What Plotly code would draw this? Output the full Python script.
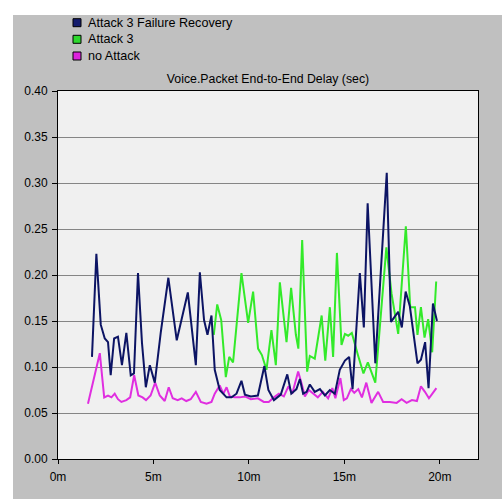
import plotly.graph_objects as go

# ---- data (time in minutes, delay in seconds) ----
recovery_t = [1.78, 2.01, 2.24, 2.45, 2.62, 2.76, 2.94, 3.14, 3.35, 3.58, 3.81, 3.98, 4.19, 4.40,
              4.60, 4.81, 5.07, 5.38, 5.78, 6.22, 6.80, 7.22, 7.43, 7.65, 7.83, 8.04, 8.21, 8.47,
              8.83, 9.09, 9.35, 9.61, 9.79, 10.10, 10.47, 10.81, 11.02, 11.31, 11.67, 12.01, 12.22,
              12.49, 12.67, 12.84, 13.02, 13.19, 13.45, 13.72, 13.98, 14.24, 14.50, 14.76, 15.03,
              15.25, 15.43, 15.81, 16.02, 16.22, 16.62, 17.22, 17.44, 17.82, 18.01, 18.21, 18.43,
              18.83, 19.01, 19.23, 19.41, 19.64, 19.85]
recovery_v = [0.111, 0.223, 0.146, 0.131, 0.127, 0.091, 0.131, 0.133, 0.102, 0.137, 0.091, 0.093,
              0.202, 0.126, 0.078, 0.102, 0.083, 0.137, 0.197, 0.129, 0.181, 0.102, 0.203, 0.151,
              0.135, 0.156, 0.097, 0.075, 0.067, 0.067, 0.071, 0.085, 0.070, 0.068, 0.069, 0.101,
              0.075, 0.064, 0.070, 0.092, 0.071, 0.076, 0.087, 0.071, 0.073, 0.081, 0.073, 0.076,
              0.069, 0.075, 0.071, 0.097, 0.107, 0.111, 0.076, 0.202, 0.143, 0.278, 0.104, 0.311,
              0.149, 0.160, 0.143, 0.182, 0.166, 0.104, 0.108, 0.127, 0.077, 0.169, 0.150]

attack_t = [8.16, 8.34, 8.55, 8.79, 8.97, 9.17, 9.61, 9.96, 10.22, 10.48, 10.68, 10.92, 11.18,
            11.41, 11.62, 11.97, 12.21, 12.46, 12.59, 12.79, 13.05, 13.19, 13.45, 13.81, 14.00,
            14.24, 14.41, 14.61, 14.85, 15.03, 15.20, 15.39, 15.71, 16.00, 16.23, 16.62, 17.20,
            17.47, 17.82, 18.22, 18.45, 18.70, 18.83, 19.01, 19.20, 19.39, 19.60, 19.81]
attack_v = [0.135, 0.168, 0.151, 0.089, 0.111, 0.105, 0.202, 0.148, 0.182, 0.120, 0.113, 0.097,
            0.140, 0.102, 0.192, 0.127, 0.186, 0.135, 0.120, 0.238, 0.095, 0.112, 0.109, 0.156,
            0.107, 0.165, 0.111, 0.224, 0.124, 0.136, 0.134, 0.137, 0.113, 0.093, 0.105, 0.083,
            0.230, 0.180, 0.136, 0.253, 0.165, 0.165, 0.135, 0.165, 0.132, 0.152, 0.116, 0.193]

noattack_t = [1.57, 2.19, 2.42, 2.62, 2.80, 2.97, 3.14, 3.32, 3.58, 3.78, 3.99, 4.21, 4.43, 4.61,
              4.85, 5.09, 5.33, 5.59, 5.80, 6.01, 6.27, 6.48, 6.72, 6.95, 7.22, 7.48, 7.78, 8.04,
              8.21, 8.47, 8.66, 8.83, 9.00, 9.26, 9.52, 9.79, 10.10, 10.47, 10.78, 11.04, 11.31,
              11.57, 11.83, 12.07, 12.27, 12.58, 12.76, 12.93, 13.14, 13.38, 13.61, 13.87, 14.15,
              14.37, 14.53, 14.79, 14.97, 15.13, 15.34, 15.52, 15.73, 15.92, 16.15, 16.42, 16.77,
              17.03, 17.38, 17.74, 18.00, 18.26, 18.54, 18.80, 19.01, 19.22, 19.43, 19.61, 19.82]
noattack_v = [0.060, 0.115, 0.067, 0.069, 0.067, 0.071, 0.065, 0.062, 0.064, 0.067, 0.091, 0.069,
              0.067, 0.064, 0.069, 0.083, 0.069, 0.063, 0.078, 0.066, 0.064, 0.066, 0.063, 0.065,
              0.073, 0.062, 0.060, 0.062, 0.071, 0.080, 0.071, 0.078, 0.068, 0.067, 0.067, 0.068,
              0.065, 0.066, 0.062, 0.062, 0.067, 0.071, 0.068, 0.079, 0.071, 0.095, 0.082, 0.068,
              0.075, 0.071, 0.067, 0.073, 0.066, 0.077, 0.066, 0.088, 0.064, 0.066, 0.076, 0.072,
              0.076, 0.067, 0.083, 0.061, 0.073, 0.062, 0.062, 0.061, 0.065, 0.061, 0.064, 0.063,
              0.079, 0.073, 0.066, 0.071, 0.077]

x_tick_vals = [0, 5, 10, 15, 20]
x_tick_text = ["0m", "5m", "10m", "15m", "20m"]
series_names = ["Attack 3 Failure Recovery", "Attack 3", "no Attack"]
series_colors = ["#0c1464", "#33ea2a", "#e02ee0"]
legend_fill = ["#141c6e", "#2ed82e", "#dd22dd"]
chart_title = "Voice.Packet End-to-End Delay (sec)"

FONT = "Liberation Sans, Arial, sans-serif"

fig = go.Figure()
fig.add_trace(go.Scatter(x=noattack_t, y=noattack_v, mode="lines", name=series_names[2],
                         line=dict(color=series_colors[2], width=2), showlegend=False))
fig.add_trace(go.Scatter(x=attack_t, y=attack_v, mode="lines", name=series_names[1],
                         line=dict(color=series_colors[1], width=2), showlegend=False))
fig.add_trace(go.Scatter(x=recovery_t, y=recovery_v, mode="lines", name=series_names[0],
                         line=dict(color=series_colors[0], width=2), showlegend=False))

# plot area in pixels: x 58..478, y 91..459
L, R, T, B = 58, 478, 91, 459
W, H = R - L, B - T
px = lambda x: (x - L) / W
py = lambda y: (B - y) / H

shapes = [
    # white strips at top and left of the grey panel
    dict(type="rect", xref="paper", yref="paper", x0=px(-20), x1=px(530), y0=py(15), y1=py(-20),
         fillcolor="white", line=dict(width=0), layer="above"),
    dict(type="rect", xref="paper", yref="paper", x0=px(-20), x1=px(13), y0=py(520), y1=py(-20),
         fillcolor="white", line=dict(width=0), layer="above"),
]
annotations = []
rows = [22.7, 39.3, 56.0]
for name, fill, yc in zip(series_names, legend_fill, rows):
    shapes.append(dict(type="rect", xref="paper", yref="paper", x0=px(73), x1=px(81),
                       y0=py(yc + 4), y1=py(yc - 4), fillcolor=fill,
                       line=dict(color="#000000", width=1), layer="above"))
    annotations.append(dict(xref="paper", yref="paper", x=px(86), y=py(yc), xanchor="left",
                            yanchor="middle", text=name, showarrow=False,
                            font=dict(family=FONT, size=12.6, color="#000000")))

fig.update_layout(
    width=502, height=499,
    margin=dict(l=L, r=502 - R, t=T, b=499 - B, pad=0),
    paper_bgcolor="#c0c0c0",
    plot_bgcolor="#f0f0f0",
    font=dict(family=FONT, size=12, color="#000000"),
    title=dict(text=chart_title, x=0.5, xref="paper", xanchor="center",
               y=1 - 79 / 499, yref="container", yanchor="middle",
               font=dict(family=FONT, size=12.3, color="#000000")),
    showlegend=False,
    shapes=shapes,
    annotations=annotations,
    xaxis=dict(range=[0, 22], tickvals=x_tick_vals, ticktext=x_tick_text,
               showgrid=False, zeroline=False, showline=True, linecolor="#000000",
               linewidth=1, mirror=True, ticks="outside", ticklen=4, tickcolor="#000000",
               ticklabelstandoff=3, tickfont=dict(family=FONT, size=12)),
    yaxis=dict(range=[0, 0.40], dtick=0.05, tick0=0, tickformat=".2f",
               showgrid=True, gridcolor="#858585", gridwidth=1, zeroline=False,
               showline=True, linecolor="#000000", linewidth=1, mirror=True,
               ticks="outside", ticklen=5, tickcolor="#000000",
               ticklabelstandoff=2, tickfont=dict(family=FONT, size=12)),
)

fig.write_html("out.html")
